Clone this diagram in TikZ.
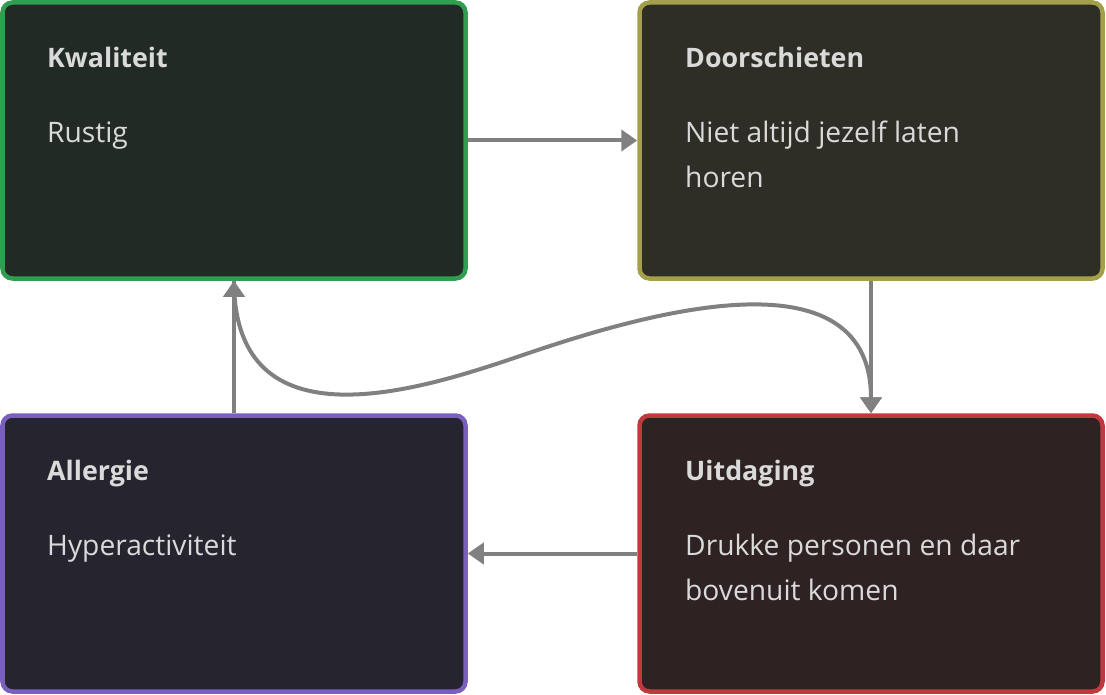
\documentclass[tikz,border=0pt]{standalone}
\usepackage{fontspec}
\setmainfont{Open Sans}
\usepackage{tikz}
\usetikzlibrary{arrows.meta, positioning}
\definecolor{kwfill}{HTML}{212A24}
\definecolor{kwline}{HTML}{2F9E4F}
\definecolor{dsfill}{HTML}{2E2E26}
\definecolor{dsline}{HTML}{A39F4A}
\definecolor{alfill}{HTML}{26242F}
\definecolor{alline}{HTML}{7B5FBE}
\definecolor{uifill}{HTML}{2F2222}
\definecolor{uiline}{HTML}{C0393F}
\definecolor{txtgray}{HTML}{DADADA}
\definecolor{arrowgray}{HTML}{808080}

\begin{document}
\begin{tikzpicture}[x=1pt, y=-1pt,
      box/.style={rounded corners=10pt, line width=4.5pt,
                  minimum width=463pt, minimum height=276pt, inner sep=0pt},
      arrow/.style={-{Triangle[length=16pt, width=21pt]}, line width=4pt, arrowgray},
      title/.style={anchor=base west, inner sep=0pt, text=txtgray,
                    font=\fontsize{26.8}{45}\selectfont\bfseries},
      body/.style={anchor=base west, inner sep=0pt, text=txtgray, align=left,
                   font=\fontsize{28.2}{45}\selectfont}
    ]
    \useasboundingbox (0,0) rectangle (1106,695);
    \node[box, draw=kwline, fill=kwfill] (kw) at (234,140.5) {};
    \node[box, draw=dsline, fill=dsfill] (ds) at (871,140.5) {};
    \node[box, draw=alline, fill=alfill] (al) at (234,553.5) {};
    \node[box, draw=uiline, fill=uifill] (ui) at (871,553.5) {};
    % texts (base of the last line)
    \node[title] (kwT) at (47,68)  {Kwaliteit};
    \node[body]  (kwB) at (47,143) {Rustig};
    \node[title] (dsT) at (685,68)  {Doorschieten};
    \node[body]  (dsB) at (685,188) {Niet altijd jezelf laten\\horen};
    \node[title] (alT) at (47,480)  {Allergie};
    \node[body]  (alB) at (47,555)  {Hyperactiviteit};
    \node[title] (uiT) at (685,480) {Uitdaging};
    \node[body]  (uiB) at (685,600) {Drukke personen en daar\\bovenuit komen};
    % connectors
    \coordinate (bend) at (520,356);
    \draw[arrow] (kw.east) -- (ds.west);
    \draw[arrow] (ds.south) -- (ui.north);
    \draw[arrow] (ui.west) -- (al.east);
    \draw[arrow] (al.north) -- (kw.south);
    \draw[arrow] (kw.south) .. controls +(0,169) and +(-100,34) .. (bend)
          .. controls +(100,-34) and +(0,-173) .. (ui.north);
  \end{tikzpicture}
\end{document}
